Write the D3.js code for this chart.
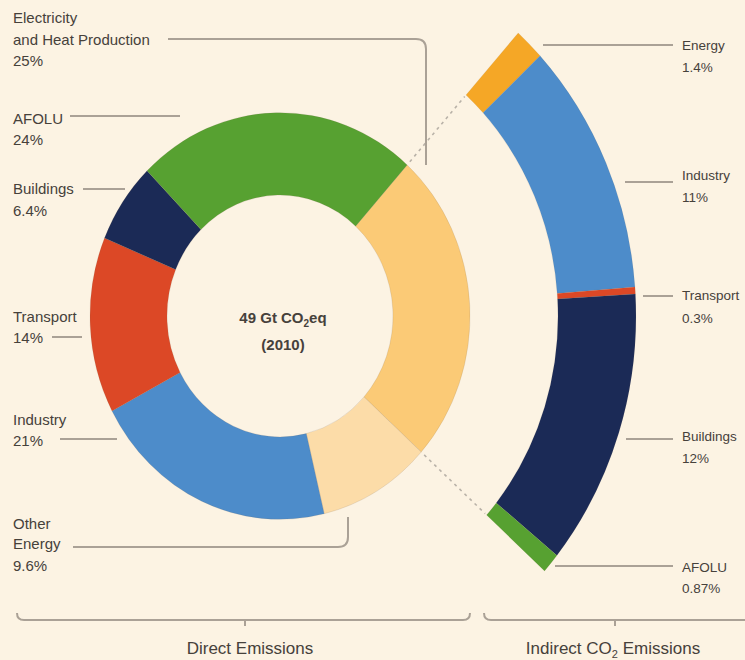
<!DOCTYPE html>
<html><head><meta charset="utf-8">
<script src="https://cdn.jsdelivr.net/npm/d3@7"></script>
<style>
html,body{margin:0;padding:0;background:#FCF3E3;}
svg{display:block;}
text{font-family:"Liberation Sans",Arial,sans-serif;}
</style></head>
<body>
<svg id="chart" width="745" height="660"></svg>
<script>
// ---------- DATA ----------
const directCategories = ["Electricity and Heat Production", "Other Energy", "Industry", "Transport", "Buildings", "AFOLU"];
const directValues = [25, 9.6, 21, 14, 6.4, 24];
const directPctLabels = ["25%", "9.6%", "21%", "14%", "6.4%", "24%"];

const indirectCategories = ["Energy", "Industry", "Transport", "Buildings", "AFOLU"];
const indirectValues = [1.4, 11, 0.3, 12, 0.87];
const indirectPctLabels = ["1.4%", "11%", "0.3%", "12%", "0.87%"];

const totalLabel = ["49 Gt CO", "2", "eq"];
const yearLabel = "(2010)";
const groupTitles = ["Direct Emissions", "Indirect CO", "2", " Emissions"];

// ---------- STYLE / LAYOUT ----------
const colors = {
  "Electricity and Heat Production": "#FBCA76",
  "Other Energy": "#FCDCA8",
  "Industry": "#4D8CCA",
  "Transport": "#DC4826",
  "Buildings": "#1B2A56",
  "AFOLU": "#57A131",
  "Energy": "#F5A726"
};
const W = 745, H = 660;
const cx = 280, cy = 316, yStretch = 1.07;
const rIn = 113, rOut = 190, r2In = 278, r2Out = 356;
const startDeg = 42;
const textColor = "#46413b", leaderColor = "#aaa196";

const svg = d3.select("#chart");
svg.append("rect").attr("width", W).attr("height", H).attr("fill", "#FCF3E3");

const ring = svg.append("g").attr("transform", `translate(${cx},${cy}) scale(1,${yStretch})`);

// direct donut
const toRad = d3.scaleLinear().domain([0, 360]).range([0, 2 * Math.PI]);
const pieDirect = d3.pie().sort(null).value(d => d.value)
  .startAngle(toRad(startDeg)).endAngle(toRad(startDeg + 360));
const directData = directCategories.map((c, i) => ({ cat: c, value: directValues[i] }));
const directArcs = pieDirect(directData);
const arcDirect = d3.arc().innerRadius(rIn).outerRadius(rOut);
ring.selectAll("path.direct").data(directArcs).join("path")
  .attr("class", "direct")
  .attr("d", arcDirect)
  .attr("fill", d => colors[d.data.cat])
  .attr("stroke", "rgba(120,100,80,0.25)")
  .attr("stroke-width", 0.6)
  .attr("vector-effect", "non-scaling-stroke");

// indirect ring: spans the electricity segment's angles
const elec = directArcs[0];
const pieIndirect = d3.pie().sort(null).value(d => d.value)
  .startAngle(elec.startAngle).endAngle(elec.endAngle);
const indirectData = indirectCategories.map((c, i) => ({ cat: c, value: indirectValues[i] }));
const indirectArcs = pieIndirect(indirectData);
const arcIndirect = d3.arc().innerRadius(r2In).outerRadius(r2Out);
ring.selectAll("path.indirect").data(indirectArcs).join("path")
  .attr("class", "indirect")
  .attr("d", arcIndirect)
  .attr("fill", d => colors[d.data.cat])
  .attr("stroke", "rgba(120,100,80,0.2)")
  .attr("stroke-width", 0.5)
  .attr("vector-effect", "non-scaling-stroke");

// dashed connectors along the electricity segment edges
const pt = (a, r) => [Math.sin(a) * r, -Math.cos(a) * r];
[elec.startAngle, elec.endAngle].forEach(a => {
  ring.append("line")
    .attr("x1", pt(a, rOut + 4)[0]).attr("y1", pt(a, rOut + 4)[1])
    .attr("x2", pt(a, r2In - 2)[0]).attr("y2", pt(a, r2In - 2)[1])
    .attr("stroke", "#b9b2a8").attr("stroke-width", 1.6)
    .attr("stroke-dasharray", "3,4")
    .attr("vector-effect", "non-scaling-stroke");
});

// center label
const ct = svg.append("text").attr("x", 283).attr("y", 323).attr("text-anchor", "middle")
  .attr("font-size", 15).attr("font-weight", "bold").attr("fill", textColor);
ct.append("tspan").text(totalLabel[0]);
ct.append("tspan").attr("font-size", 10).attr("dy", 4).text(totalLabel[1]);
ct.append("tspan").attr("dy", -4).text(totalLabel[2]);
svg.append("text").attr("x", 283).attr("y", 350).attr("text-anchor", "middle")
  .attr("font-size", 15).attr("font-weight", "bold").attr("fill", textColor).text(yearLabel);

// labels & leaders
const leftLayout = {
  "Electricity and Heat Production": { lines: ["Electricity", "and Heat Production"], y: [23, 45, 66], leader: "M168,39 H416 Q426,39 426,49 V165" },
  "AFOLU": { lines: ["AFOLU"], y: [124, 145], leader: "M70,116 H180" },
  "Buildings": { lines: ["Buildings"], y: [194, 216], leader: "M83,189 H125" },
  "Transport": { lines: ["Transport"], y: [322, 343], leader: "M52,337 H82" },
  "Industry": { lines: ["Industry"], y: [425, 446], leader: "M60,439 H117" },
  "Other Energy": { lines: ["Other", "Energy"], y: [529, 549, 571], leader: "M73,547 H338 Q348,547 348,537 V517" }
};
const rightLayout = {
  "Energy": { lines: ["Energy"], y: [50, 72], leader: "M543,45 H673" },
  "Industry": { lines: ["Industry"], y: [180, 202], leader: "M625,182 H673" },
  "Transport": { lines: ["Transport"], y: [300, 323], leader: "M643,296 H673" },
  "Buildings": { lines: ["Buildings"], y: [441, 463], leader: "M626,439 H673" },
  "AFOLU": { lines: ["AFOLU"], y: [572, 593], leader: "M555,566 H673" }
};

function drawLabels(cats, pcts, layout, x, fs) {
  cats.forEach((c, i) => {
    const L = layout[c];
    const allLines = L.lines.concat([pcts[i]]);
    allLines.forEach((t, j) => {
      svg.append("text").attr("x", x).attr("y", L.y[j])
        .attr("font-size", fs).attr("fill", textColor)
        .text(t);
    });
    svg.append("path").attr("d", L.leader).attr("fill", "none")
      .attr("stroke", leaderColor).attr("stroke-width", 2);
  });
}
drawLabels(directCategories, directPctLabels, leftLayout, 13, 15);
drawLabels(indirectCategories, indirectPctLabels, rightLayout, 682, 13.5);

// bottom brackets
svg.append("path").attr("d", "M17,613 Q17,620 24,620 H463 Q470,620 470,613 M245,620 V626")
  .attr("fill", "none").attr("stroke", leaderColor).attr("stroke-width", 2);
svg.append("path").attr("d", "M484,613 Q484,620 491,620 H752 M615,620 V626")
  .attr("fill", "none").attr("stroke", leaderColor).attr("stroke-width", 2);

svg.append("text").attr("x", 250).attr("y", 654).attr("text-anchor", "middle")
  .attr("font-size", 17).attr("fill", textColor).text(groupTitles[0]);
const it = svg.append("text").attr("x", 613).attr("y", 654).attr("text-anchor", "middle")
  .attr("font-size", 17).attr("fill", textColor);
it.append("tspan").text(groupTitles[1]);
it.append("tspan").attr("font-size", 11).attr("dy", 4).text(groupTitles[2]);
it.append("tspan").attr("dy", -4).text(groupTitles[3]);
</script>
</body></html>
